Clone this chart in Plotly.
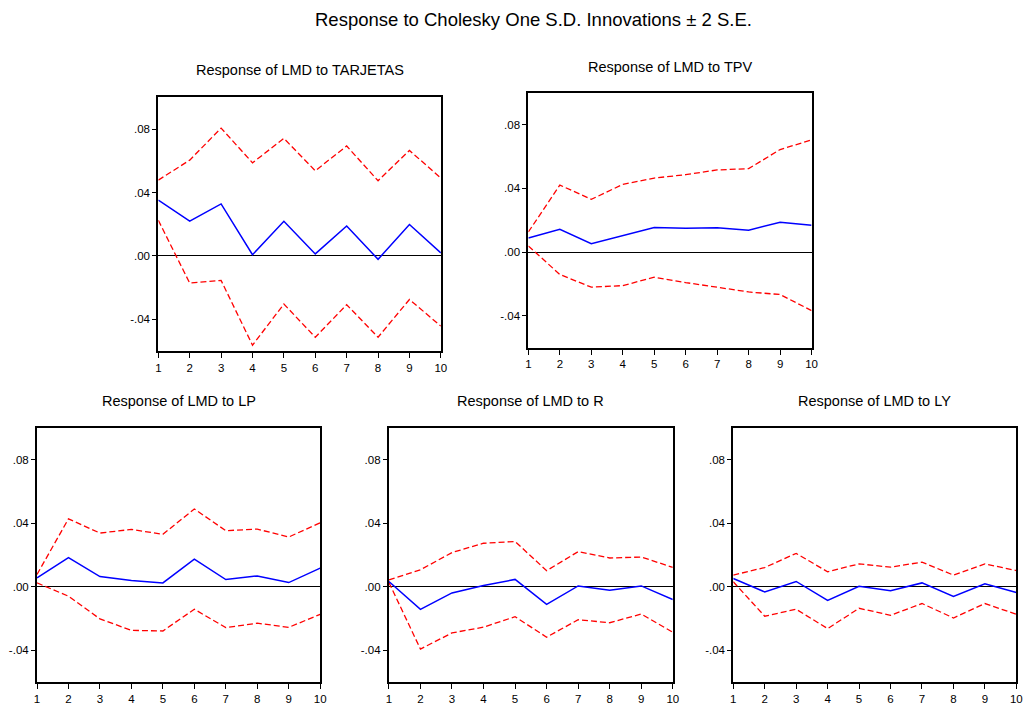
import plotly.graph_objects as go

periods = list(range(1, 11))

titles = ["Response of LMD to TARJETAS", "Response of LMD to TPV",
          "Response of LMD to LP", "Response of LMD to R", "Response of LMD to LY"]

tarjetas_resp = [0.0352, 0.0219, 0.0328, 0.0008, 0.0219, 0.0013, 0.0189, -0.0021, 0.0198, 0.0019]
tarjetas_up = [0.0478, 0.0604, 0.0806, 0.0587, 0.0741, 0.0537, 0.0693, 0.0474, 0.0665, 0.0491]
tarjetas_lo = [0.0225, -0.0171, -0.0154, -0.0562, -0.0303, -0.0512, -0.0307, -0.0512, -0.0274, -0.0442]

tpv_resp = [0.0088, 0.0143, 0.0053, 0.0105, 0.0154, 0.0149, 0.0152, 0.0137, 0.0187, 0.0168]
tpv_up = [0.0126, 0.0421, 0.0331, 0.0425, 0.0465, 0.0486, 0.0516, 0.0524, 0.0644, 0.0705]
tpv_lo = [0.0038, -0.0141, -0.0221, -0.0211, -0.0158, -0.0192, -0.0221, -0.0251, -0.0267, -0.0368]

lp_resp = [0.0057, 0.0185, 0.0065, 0.0040, 0.0025, 0.0175, 0.0046, 0.0069, 0.0027, 0.0118]
lp_up = [0.0078, 0.0429, 0.0339, 0.0362, 0.0331, 0.0491, 0.0354, 0.0364, 0.0314, 0.0404]
lp_lo = [0.0025, -0.0059, -0.0202, -0.0274, -0.0278, -0.0141, -0.0257, -0.0229, -0.0255, -0.0173]

r_resp = [0.0034, -0.0142, -0.0038, 0.0008, 0.0047, -0.0110, 0.0006, -0.0021, 0.0006, -0.0080]
r_up = [0.0044, 0.0108, 0.0216, 0.0275, 0.0286, 0.0102, 0.0222, 0.0182, 0.0188, 0.0123]
r_lo = [0.0028, -0.0392, -0.0290, -0.0254, -0.0188, -0.0317, -0.0207, -0.0226, -0.0171, -0.0286]

ly_resp = [0.0053, -0.0032, 0.0034, -0.0086, 0.0004, -0.0025, 0.0025, -0.0061, 0.0019, -0.0036]
ly_up = [0.0074, 0.0122, 0.0211, 0.0095, 0.0145, 0.0124, 0.0156, 0.0074, 0.0145, 0.0103]
ly_lo = [0.0032, -0.0185, -0.0141, -0.0263, -0.0135, -0.0179, -0.0105, -0.0196, -0.0105, -0.0173]

ytick_vals = [-0.04, 0.0, 0.04, 0.08]
ytick_text = ["-.04", ".00", ".04", ".08"]

series = [
    (tarjetas_resp, tarjetas_up, tarjetas_lo),
    (tpv_resp, tpv_up, tpv_lo),
    (lp_resp, lp_up, lp_lo),
    (r_resp, r_up, r_lo),
    (ly_resp, ly_up, ly_lo),
]

W, H = 1029, 705
# pixel boxes: (left, right, top, bottom)
boxes = [
    (156.7, 441.7, 97.7, 352.7),
    (530.0, 815.7, 93.3, 349.0),
    (34.3, 320.0, 430.0, 685.0),
    (389.3, 675.7, 430.0, 685.0),
    (736.7, 1022.3, 430.0, 685.0),
]
title_y = [70, 67, 403, 403, 403]

fig = go.Figure()
FONT = "Liberation Sans, Arial, sans-serif"

for i, ((resp, up, lo), (l, r, t, b), title, ty) in enumerate(zip(series, boxes, titles, title_y)):
    n = "" if i == 0 else str(i + 1)
    xa, ya = "x" + n, "y" + n
    fig.add_trace(go.Scatter(x=periods, y=up, mode="lines", xaxis=xa, yaxis=ya,
                             line=dict(color="#FF0000", width=1.3, dash="6px,3px"), showlegend=False))
    fig.add_trace(go.Scatter(x=periods, y=lo, mode="lines", xaxis=xa, yaxis=ya,
                             line=dict(color="#FF0000", width=1.3, dash="6px,3px"), showlegend=False))
    fig.add_trace(go.Scatter(x=periods, y=resp, mode="lines", xaxis=xa, yaxis=ya,
                             line=dict(color="#0000FF", width=1.5), showlegend=False))
    xd = [l / W, r / W]
    yd = [1 - b / H, 1 - t / H]
    fig.layout["xaxis" + n] = dict(domain=xd, anchor=ya, range=[1, 10], tickvals=periods,
                                   showline=True, mirror=True, linecolor="black", linewidth=2,
                                   ticks="outside", ticklen=5, tickcolor="black", tickwidth=1,
                                   showgrid=False, zeroline=False,
                                   tickfont=dict(family=FONT, size=11.5, color="black"))
    fig.layout["yaxis" + n] = dict(domain=yd, anchor=xa, range=[-0.06, 0.10], tickvals=ytick_vals,
                                   ticktext=ytick_text,
                                   showline=True, mirror=True, linecolor="black", linewidth=2,
                                   ticks="outside", ticklen=4, tickcolor="black", tickwidth=1,
                                   showgrid=False, zeroline=True, zerolinecolor="black", zerolinewidth=1,
                                   tickfont=dict(family=FONT, size=11.5, color="black"))
    fig.add_annotation(text=title, xref="paper", yref="paper", x=(l + r) / 2 / W,
                       y=1 - ty / H, xanchor="center", yanchor="middle", showarrow=False,
                       font=dict(family=FONT, size=14.5, color="black"))

fig.add_annotation(text="Response to Cholesky One S.D. Innovations \u00b1 2 S.E.", xref="paper", yref="paper",
                   x=535 / W, y=1 - 20 / H, xanchor="center", yanchor="middle", showarrow=False,
                   font=dict(family=FONT, size=18.5, color="black"))

fig.update_layout(width=W, height=H, margin=dict(l=0, r=0, t=0, b=0),
                  paper_bgcolor="white", plot_bgcolor="white")

fig.write_html("out.html", config={"displayModeBar": False},
               post_script="document.body.style.margin='0';document.body.style.padding='0';"
                           "document.body.style.overflow='hidden';")
